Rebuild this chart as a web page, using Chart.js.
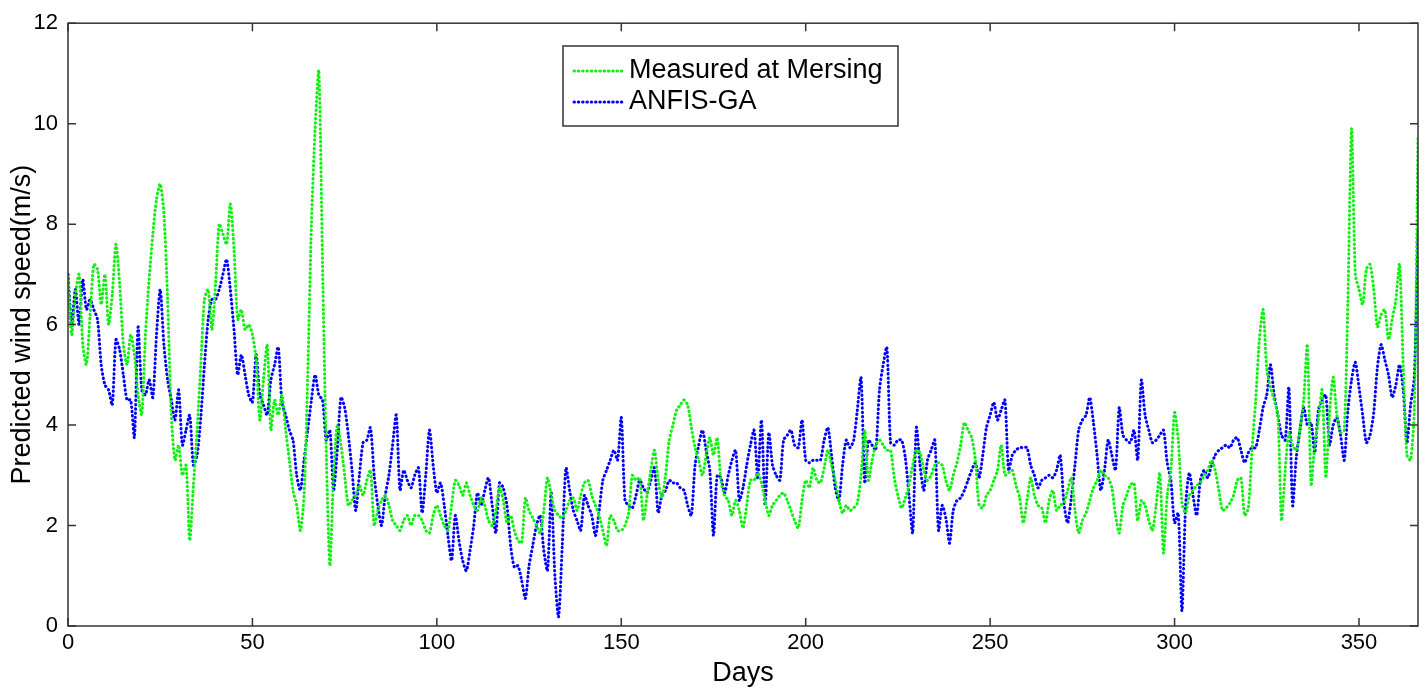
<!DOCTYPE html>
<html>
<head>
<meta charset="utf-8">
<script src="https://cdn.jsdelivr.net/npm/chart.js@4.4.1/dist/chart.umd.min.js"></script>
<style>
  html, body { margin: 0; padding: 0; background: #fff; }
  #wrap { width: 1427px; height: 690px; }
</style>
</head>
<body>
<div id="wrap"><canvas id="chart" width="1427" height="690"></canvas></div>
<script>
// day index 0..366
const days = Array.from({ length: 367 }, (_, i) => i);

const xTicks = [0, 50, 100, 150, 200, 250, 300, 350];
const yTicks = [0, 2, 4, 6, 8, 10, 12];

const measured = [
  6.9, 5.8, 6.6, 7.0, 5.6, 5.2, 6.2, 7.2, 7.1, 6.4,
  7.0, 6.0, 6.6, 7.6, 6.8, 5.6, 5.2, 5.8, 5.4, 4.6,
  4.2, 5.8, 6.9, 7.8, 8.5, 8.8, 8.2, 6.5, 4.2, 3.3,
  3.6, 3.0, 3.2, 1.7, 2.8, 3.9, 5.2, 6.5, 6.7, 5.9,
  6.8, 8.0, 7.8, 7.6, 8.4, 7.5, 6.1, 6.3, 5.9, 6.0,
  5.8, 5.3, 4.1, 4.9, 5.6, 3.9, 4.5, 4.2, 4.6, 3.9,
  3.3, 2.7, 2.4, 1.9, 2.6, 5.0, 8.0, 9.9, 11.05, 7.2,
  3.5, 1.2, 3.0, 4.0, 3.6, 3.0, 2.4, 2.5, 2.6, 2.8,
  2.6, 2.9, 3.1, 2.0, 2.3, 2.5, 2.6, 2.4, 2.1, 2.0,
  1.9, 2.1, 2.2, 2.0, 2.2, 2.2, 2.1, 1.9, 1.85, 2.2,
  2.4, 2.2, 2.0, 1.9, 2.4, 2.9, 2.8, 2.6, 2.85, 2.6,
  2.4, 2.3, 2.55, 2.4, 2.1, 2.0, 2.3, 2.75, 2.5, 2.05,
  2.2, 1.9, 1.7, 1.65, 2.55, 2.3, 2.15, 2.0, 1.85, 2.3,
  2.95, 2.6, 2.3, 2.2, 2.15, 2.3, 2.5, 2.55, 2.3, 2.6,
  2.85, 2.9, 2.6, 2.4, 2.2, 1.9, 1.6, 2.2, 2.1, 1.9,
  1.9, 2.0, 2.25, 3.0, 2.9, 2.95, 2.1, 2.6, 3.1, 3.5,
  2.9, 2.55, 3.0, 3.7, 4.0, 4.3, 4.4, 4.5, 4.4, 3.95,
  3.55, 3.3, 3.0, 3.4, 3.75, 3.4, 3.75, 2.9, 2.6, 2.5,
  2.2, 2.5, 2.3, 1.95, 2.4, 2.9, 2.9, 3.05, 2.85, 2.5,
  2.2, 2.4, 2.5, 2.6, 2.65, 2.5, 2.3, 2.1, 1.95, 2.5,
  2.9, 2.75, 3.15, 2.9, 2.85, 3.15, 3.5, 3.2, 2.9, 2.5,
  2.25, 2.4, 2.3, 2.35, 2.45, 3.0, 3.9, 2.9, 3.3, 3.6,
  3.7, 3.6, 3.5, 3.5, 2.95, 2.6, 2.35, 2.55, 2.8, 3.2,
  3.5, 3.45, 3.1, 2.9, 3.0, 3.2, 3.25, 3.2, 2.9, 2.7,
  3.0, 3.25, 3.6, 4.05, 3.9, 3.75, 3.3, 2.4, 2.35, 2.6,
  2.7, 2.9, 3.1, 3.6, 3.0, 3.05, 3.1, 2.8, 2.55, 2.05,
  2.5, 2.95, 2.6, 2.4, 2.35, 2.05, 2.5, 2.7, 2.3, 2.4,
  2.45, 2.7, 2.95, 2.3, 1.85, 2.1, 2.25, 2.5, 2.75, 2.9,
  3.1, 3.0, 2.95, 2.75, 2.2, 1.85, 2.4, 2.6, 2.8, 2.85,
  2.1, 2.5, 2.4, 2.1, 1.9, 2.4, 3.05, 1.45, 2.6, 3.1,
  4.25, 3.7, 2.45, 2.25, 2.6, 2.7, 2.8, 2.85, 3.0, 3.1,
  3.3, 3.1, 2.7, 2.3, 2.35, 2.45, 2.6, 2.9, 2.95, 2.2,
  2.35, 3.5, 4.5, 5.7, 6.3, 5.1, 4.75, 4.5, 4.2, 2.1,
  3.1, 3.85, 3.6, 3.5, 3.9, 4.5, 5.6, 2.8, 3.6, 4.1,
  4.7, 2.95, 4.2, 4.95, 4.2, 3.85, 3.9, 6.5, 9.9, 7.0,
  6.7, 6.4, 7.1, 7.2, 6.7, 5.95, 6.2, 6.3, 5.7, 6.1,
  6.5, 7.2, 5.15, 3.4, 3.3, 4.3, 9.7
];

// ANFIS-GA prediction (m/s)
const anfisGa = [
  7.0, 6.0, 6.7, 6.0, 6.9, 6.3, 6.5, 6.3, 6.1, 5.2,
  4.8, 4.7, 4.4, 5.7, 5.5, 5.0, 4.5, 4.5, 3.75, 5.95,
  4.7, 4.6, 4.9, 4.55, 5.8, 6.7, 5.6, 4.9, 4.5, 4.1,
  4.7, 3.6, 3.9, 4.2, 3.2, 3.4, 4.15, 5.2, 6.1, 6.5,
  6.5, 6.7, 7.0, 7.3, 6.7, 5.9, 5.0, 5.4, 5.0, 4.6,
  4.45, 5.4, 4.6, 4.4, 4.2, 4.9, 5.2, 5.55, 4.45, 4.2,
  3.9, 3.7, 3.0, 2.7, 3.3, 3.9, 4.5, 5.0, 4.6, 4.5,
  3.7, 3.9, 2.7, 3.5, 4.55, 4.35, 3.8, 3.1, 2.3, 3.0,
  3.65, 3.7, 3.95, 3.0, 2.4, 2.0, 2.6, 3.0, 3.6, 4.2,
  2.7, 3.1, 2.9, 2.75, 3.0, 3.15, 2.25, 3.0, 3.9, 3.2,
  2.65, 2.85, 2.4, 1.8, 1.3, 2.2, 1.7, 1.3, 1.1, 1.5,
  2.0, 2.65, 2.4, 2.7, 2.95, 2.4, 1.85, 2.85, 2.75, 2.4,
  1.6, 1.17, 1.2, 0.9, 0.55, 1.2, 1.6, 2.0, 2.2, 1.5,
  1.1, 2.65, 1.0, 0.18, 1.6, 3.15, 2.7, 2.3, 2.1, 1.9,
  2.6, 2.4, 2.2, 1.8, 2.3, 2.9, 3.1, 3.3, 3.5, 3.3,
  4.15, 2.5, 2.4, 2.35, 2.6, 2.9, 2.75, 2.65, 2.9, 3.15,
  2.25, 2.6, 2.7, 2.9, 2.85, 2.85, 2.75, 2.7, 2.4, 2.2,
  3.2, 3.6, 3.9, 3.5, 3.1, 1.8, 3.0, 2.95, 2.65, 3.0,
  3.3, 3.5, 2.5, 2.75, 3.2, 3.6, 3.9, 2.95, 4.1, 2.4,
  3.85, 3.2, 3.0, 2.9, 3.7, 3.8, 3.9, 3.6, 3.55, 4.1,
  3.3, 3.25, 3.3, 3.3, 3.3, 3.7, 3.95, 3.4, 2.75, 2.5,
  3.2, 3.7, 3.55, 3.7, 4.3, 4.95, 2.85, 3.7, 3.6, 3.5,
  4.7, 5.2, 5.55, 3.65, 3.6, 3.7, 3.7, 3.35, 2.6, 1.85,
  3.95, 3.2, 2.7, 3.3, 3.5, 3.7, 1.9, 2.4, 2.15, 1.65,
  2.3, 2.5, 2.55, 2.7, 2.9, 3.1, 3.25, 2.95, 3.4, 3.95,
  4.2, 4.45, 4.1, 4.3, 4.5, 3.1, 3.4, 3.5, 3.55, 3.55,
  3.55, 3.2, 3.0, 2.75, 2.9, 2.95, 3.0, 2.95, 3.1, 3.4,
  2.45, 2.05, 2.55, 3.2, 3.9, 4.1, 4.2, 4.55, 4.05, 3.4,
  2.7, 3.1, 3.7, 3.4, 3.1, 4.35, 3.8, 3.7, 3.65, 3.9,
  3.3, 4.9, 4.2, 3.9, 3.65, 3.7, 3.8, 3.9, 3.25, 2.9,
  2.05, 2.25, 0.3, 2.4, 3.05, 2.6, 2.2, 2.9, 3.1, 2.95,
  3.2, 3.4, 3.5, 3.55, 3.6, 3.55, 3.7, 3.75, 3.5, 3.25,
  3.45, 3.55, 3.55, 3.9, 4.35, 4.6, 5.2, 4.6, 4.2, 3.8,
  3.7, 4.75, 2.4, 3.35, 3.9, 4.35, 4.0, 4.05, 3.45, 4.3,
  4.5, 4.6, 3.6, 4.0, 4.15, 3.8, 3.3, 4.3, 4.9, 5.25,
  4.75, 4.2, 3.65, 3.8, 4.25, 5.15, 5.6, 5.3, 5.0, 4.55,
  4.8, 5.2, 4.7, 3.65, 4.4, 4.95, 7.9
];

const seriesNames = ['Measured at Mersing', 'ANFIS-GA'];
const seriesColors = ['#10f010', '#0000ff'];

const FONT = "'Liberation Sans', Arial, sans-serif";
const DOTS = [0.5, 3.8];

function toPoints(vals) {
  return vals.map((v, i) => ({ x: days[i], y: v }));
}

// matlab style box with inward ticks + legend inside the plot
const boxPlugin = {
  id: 'boxPlugin',
  afterDraw(chart) {
    const { ctx, chartArea: a, scales } = chart;
    ctx.save();
    ctx.strokeStyle = '#333';
    ctx.lineWidth = 1.5;
    ctx.strokeRect(a.left, a.top, a.right - a.left, a.bottom - a.top);

    const len = 8;
    ctx.beginPath();
    xTicks.forEach(v => {
      const px = scales.x.getPixelForValue(v);
      ctx.moveTo(px, a.bottom); ctx.lineTo(px, a.bottom - len);
      ctx.moveTo(px, a.top); ctx.lineTo(px, a.top + len);
    });
    yTicks.forEach(v => {
      const py = scales.y.getPixelForValue(v);
      ctx.moveTo(a.left, py); ctx.lineTo(a.left + len, py);
      ctx.moveTo(a.right, py); ctx.lineTo(a.right - len, py);
    });
    ctx.stroke();

    // legend
    const lx = 563, ly = 46, lw = 335, lh = 80;
    ctx.fillStyle = '#fff';
    ctx.fillRect(lx, ly, lw, lh);
    ctx.strokeStyle = '#333';
    ctx.lineWidth = 1.5;
    ctx.strokeRect(lx, ly, lw, lh);

    ctx.font = '27px ' + FONT;
    ctx.textBaseline = 'middle';
    seriesNames.forEach((name, i) => {
      const cy = ly + 25 + i * 31;
      ctx.strokeStyle = seriesColors[i];
      ctx.lineWidth = 3;
      ctx.lineCap = 'round';
      ctx.setLineDash(DOTS);
      ctx.beginPath();
      ctx.moveTo(574, cy);
      ctx.lineTo(622, cy);
      ctx.stroke();
      ctx.setLineDash([]);
      ctx.fillStyle = '#000';
      ctx.fillText(name, 629, cy);
    });
    ctx.restore();
  }
};

const ctx = document.getElementById('chart').getContext('2d');
new Chart(ctx, {
  type: 'line',
  data: {
    datasets: [
      {
        label: seriesNames[0],
        data: toPoints(measured),
        borderColor: seriesColors[0],
        borderWidth: 3,
        borderDash: DOTS,
        borderCapStyle: 'round',
        pointRadius: 0,
        tension: 0.25
      },
      {
        label: seriesNames[1],
        data: toPoints(anfisGa),
        borderColor: seriesColors[1],
        borderWidth: 3,
        borderDash: DOTS,
        borderCapStyle: 'round',
        pointRadius: 0,
        tension: 0.25
      }
    ]
  },
  options: {
    responsive: false,
    devicePixelRatio: 1,
    animation: false,
    layout: { padding: { left: 0, right: 9, top: 22, bottom: 0 } },
    plugins: {
      legend: { display: false },
      tooltip: { enabled: false }
    },
    scales: {
      x: {
        type: 'linear',
        min: 0,
        max: 366,
        grid: { display: false, drawTicks: false },
        border: { display: false },
        afterBuildTicks: s => { s.ticks = xTicks.map(v => ({ value: v })); },
        afterFit: s => { s.height = 64; },
        ticks: { color: '#000', font: { family: FONT, size: 22 }, padding: 4, maxRotation: 0 },
        title: { display: true, text: 'Days', color: '#000', font: { family: FONT, size: 27 }, padding: { top: 0, bottom: 0 } }
      },
      y: {
        min: 0,
        max: 12,
        grid: { display: false, drawTicks: false },
        border: { display: false },
        afterBuildTicks: s => { s.ticks = yTicks.map(v => ({ value: v })); },
        afterFit: s => { s.width = 68; },
        ticks: { color: '#000', font: { family: FONT, size: 22 }, padding: 10 },
        title: { display: true, text: 'Predicted wind speed(m/s)', color: '#000', font: { family: FONT, size: 27 }, padding: { top: 6, bottom: 0 } }
      }
    }
  },
  plugins: [boxPlugin]
});
</script>
</body>
</html>
